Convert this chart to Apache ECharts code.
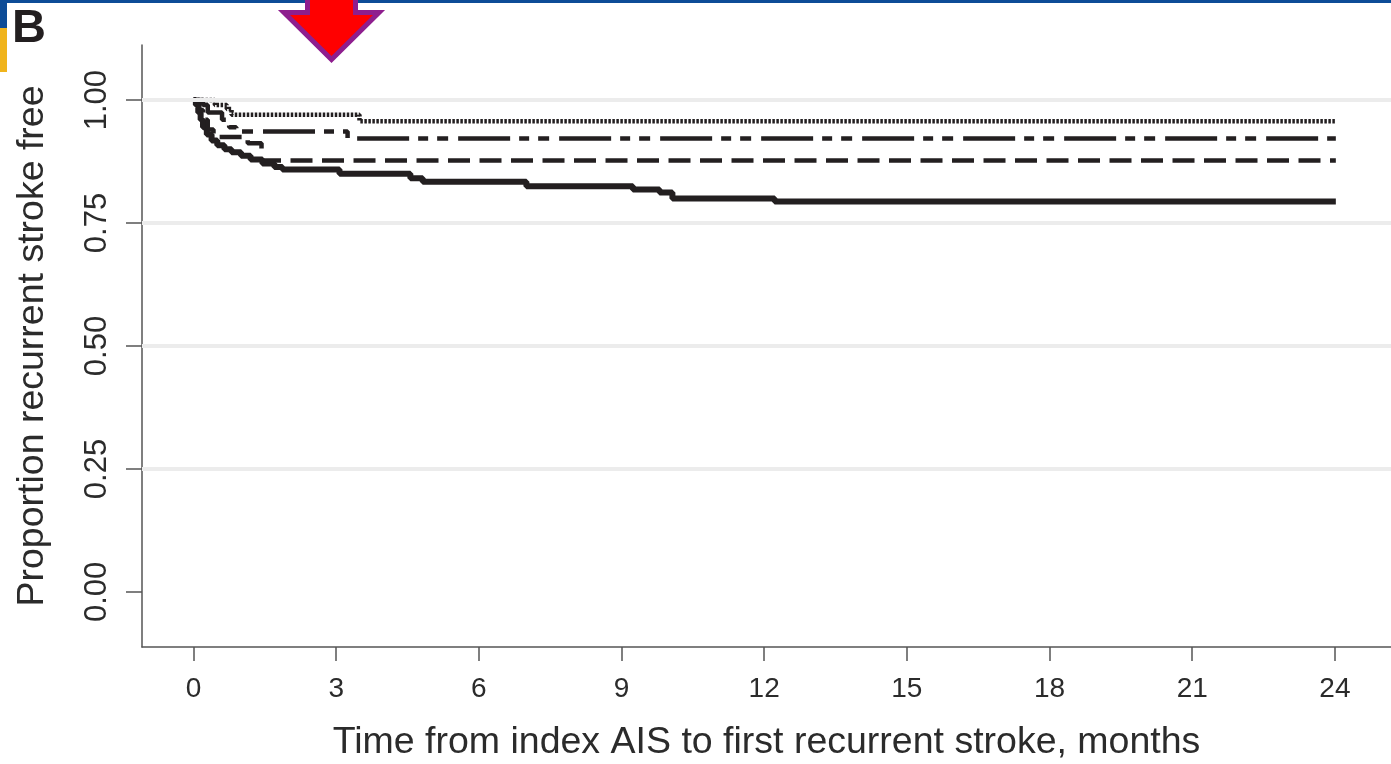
<!DOCTYPE html>
<html>
<head>
<meta charset="utf-8">
<script src="https://cdn.jsdelivr.net/npm/echarts@6/dist/echarts.min.js"></script>
<style>
  html, body { margin: 0; padding: 0; background: #fff; }
  #chart { width: 1391px; height: 764px; }
</style>
</head>
<body>
<div id="chart"></div>
<script>
// x ticks (months) and y ticks (proportion)
const xTicks = [0, 3, 6, 9, 12, 15, 18, 21, 24]
const yTicks = [0, 0.25, 0.5, 0.75, 1]

// Kaplan-Meier steps: [months, proportion]
const solidCurve = [
  [0, 1.0], [0.05, 0.99], [0.1, 0.975], [0.15, 0.96], [0.2, 0.945], [0.28, 0.93],
  [0.38, 0.918], [0.5, 0.908], [0.65, 0.9], [0.8, 0.894], [1.0, 0.887], [1.2, 0.879],
  [1.45, 0.871], [1.7, 0.864], [1.87, 0.859], [3.07, 0.85], [4.56, 0.841], [4.82, 0.834],
  [7.0, 0.825], [9.24, 0.818], [9.8, 0.812], [10.07, 0.8], [12.22, 0.794], [24.02, 0.794]
]
const dashedCurve = [
  [0, 1.0], [0.12, 0.98], [0.2, 0.96], [0.3, 0.94], [0.42, 0.925], [1.14, 0.912],
  [1.43, 0.877], [24.02, 0.877]
]
const dashDotCurve = [
  [0, 1.0], [0.2, 0.99], [0.3, 0.975], [0.6, 0.96], [0.75, 0.945], [0.9, 0.936],
  [3.24, 0.922], [24.02, 0.922]
]
const dottedCurve = [
  [0, 1.0], [0.45, 0.99], [0.7, 0.982], [0.8, 0.97], [3.49, 0.957], [24.02, 0.957]
]

const ink = '#231f20'
const axisGrey = '#555'
const textGrey = '#2b2b2b'
const font = 'Liberation Sans, Arial, sans-serif'

const chart = echarts.init(document.getElementById('chart'))

function curve(data, width, type) {
  return {
    type: 'line',
    step: 'end',
    data: data,
    symbol: 'none',
    animation: false,
    z: 3,
    lineStyle: { color: ink, width: width, type: type, cap: 'butt' }
  }
}

chart.setOption({
  animation: false,
  grid: { left: 142, right: 0, top: 45, bottom: 117, containLabel: false, outerBoundsMode: 'none' },
  xAxis: {
    type: 'value',
    min: -1.083,
    max: 25.18,
    name: 'Time from index AIS to first recurrent stroke, months',
    nameLocation: 'middle',
    nameGap: 77,
    nameTextStyle: { fontSize: 37.5, color: textGrey, fontFamily: font },
    axisLine: { onZero: false, lineStyle: { color: axisGrey, width: 1.5 } },
    axisTick: { customValues: xTicks, length: 14, lineStyle: { color: axisGrey, width: 1.5 } },
    axisLabel: { customValues: xTicks, margin: 28, fontSize: 28, color: textGrey, fontFamily: font },
    splitLine: { show: false }
  },
  yAxis: {
    type: 'value',
    min: -0.112,
    max: 1.112,
    name: 'Proportion recurrent stroke free',
    nameLocation: 'middle',
    nameGap: 90,
    nameTextStyle: { fontSize: 37.5, color: textGrey, fontFamily: font },
    axisLine: { show: true, onZero: false, lineStyle: { color: axisGrey, width: 1.5 } },
    axisTick: { show: true, customValues: yTicks, length: 16, lineStyle: { color: axisGrey, width: 1.5 } },
    axisLabel: {
      customValues: yTicks,
      rotate: 90,
      margin: 29,
      fontSize: 31,
      color: textGrey,
      fontFamily: font,
      formatter: (v) => v.toFixed(2)
    },
    splitLine: { show: false }
  },
  series: [
    {
      type: 'line',
      data: [],
      silent: true,
      z: 1,
      markLine: {
        silent: true,
        symbol: 'none',
        animation: false,
        label: { show: false },
        lineStyle: { color: '#ececec', width: 4, type: 'solid' },
        data: yTicks.filter(v => v > 0).map(v => ({ yAxis: v }))
      }
    },
    curve(solidCurve, 6, 'solid'),
    curve(dashedCurve, 4.5, [22, 9.5]),
    curve(dashDotCurve, 4.5, [52, 9, 10, 9, 11, 10]),
    curve(dottedCurve, 4.5, [2.5, 1.5])
  ],
  graphic: [
    { type: 'rect', shape: { x: 0, y: 0, width: 1391, height: 3 }, style: { fill: '#0d4c97' }, z: 10 },
    { type: 'rect', shape: { x: 0, y: 0, width: 7, height: 28 }, style: { fill: '#0d4c97' }, z: 10 },
    { type: 'rect', shape: { x: 0, y: 28, width: 7, height: 44 }, style: { fill: '#f0b41c' }, z: 10 },
    {
      type: 'text', left: 12, top: 6, z: 10,
      style: { text: 'B', fontSize: 47, fontWeight: 'bold', fill: ink, fontFamily: font }
    },
    {
      type: 'polygon', z: 11,
      shape: { points: [[307.5, -5], [355.5, -5], [355.5, 12.5], [379, 12.5], [331.5, 59.5], [284, 12.5], [307.5, 12.5]] },
      style: { fill: '#ff0000', stroke: '#8e1e8e', lineWidth: 5, lineJoin: 'miter' }
    }
  ]
})
</script>
</body>
</html>
